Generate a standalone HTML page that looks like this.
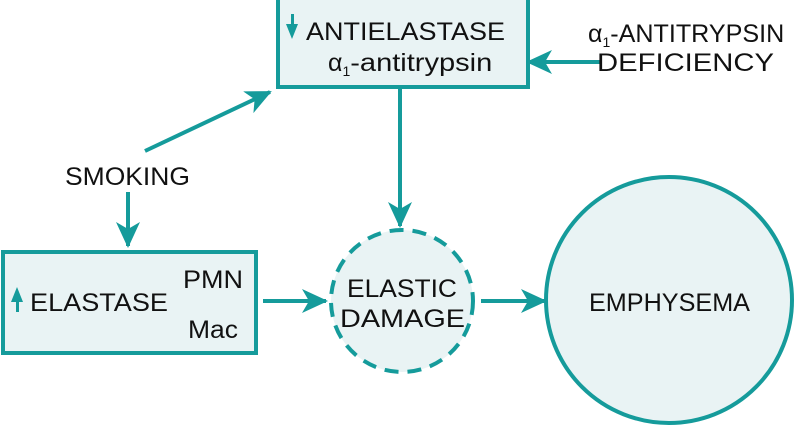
<!DOCTYPE html>
<html><head><style>body{margin:0;background:#fff}svg{display:block}text{font-family:"Liberation Sans",Arial,sans-serif;fill:#111}</style></head><body>
<svg width="801" height="428" viewBox="0 0 801 428">
<defs>
<marker id="b" markerWidth="28" markerHeight="24" refX="24" refY="12" orient="auto" markerUnits="userSpaceOnUse"><path d="M0,0 L26,12 L0,24 L7,12z" fill="#159b9b"/></marker></defs>
<g stroke="#159b9b" stroke-width="4" fill="#e9f3f4">
<rect x="278" y="-2" width="250" height="89"/>
<rect x="3" y="252" width="253" height="101"/>
<circle cx="402" cy="301" r="71" stroke-dasharray="14,9"/>
<circle cx="669" cy="300" r="123"/>
</g>
<g stroke="#159b9b" stroke-width="4" fill="none" marker-end="url(#b)">
<line x1="145" y1="151" x2="270" y2="92"/>
<line x1="128" y1="192" x2="128" y2="246"/>
<line x1="400" y1="89" x2="400" y2="226"/>
<line x1="602" y1="62" x2="528" y2="62"/>
<line x1="263" y1="301" x2="326" y2="301"/>
<line x1="481" y1="301" x2="545" y2="301"/>
</g>
<g fill="#159b9b">
<rect x="291" y="14" width="3" height="12"/><path d="M286,24 L298,24 L292,39z"/>
<rect x="16" y="298" width="3" height="14"/><path d="M11,302 L23,302 L17,287z"/>
</g>
<g font-size="25">
<text x="306" y="40" textLength="199" lengthAdjust="spacingAndGlyphs">ANTIELASTASE</text>
<text x="328" y="71">α<tspan font-size="14" dy="5">1</tspan><tspan dy="-5" textLength="142" lengthAdjust="spacingAndGlyphs">-antitrypsin</tspan></text>
<text x="588" y="42">α<tspan font-size="14" dy="5">1</tspan><tspan dy="-5" textLength="174" lengthAdjust="spacingAndGlyphs">-ANTITRYPSIN</tspan></text>
<text x="597" y="71" textLength="177" lengthAdjust="spacingAndGlyphs">DEFICIENCY</text>
<text x="65" y="185" textLength="125" lengthAdjust="spacingAndGlyphs">SMOKING</text>
<text x="30" y="311" textLength="138" lengthAdjust="spacingAndGlyphs">ELASTASE</text>
<text x="183" y="288" textLength="60" lengthAdjust="spacingAndGlyphs">PMN</text>
<text x="188" y="338" textLength="50" lengthAdjust="spacingAndGlyphs">Mac</text>
<text x="347" y="297" textLength="110" lengthAdjust="spacingAndGlyphs">ELASTIC</text>
<text x="340" y="327" textLength="125" lengthAdjust="spacingAndGlyphs">DAMAGE</text>
<text x="589" y="311" textLength="161" lengthAdjust="spacingAndGlyphs">EMPHYSEMA</text>
</g>
</svg></body></html>
